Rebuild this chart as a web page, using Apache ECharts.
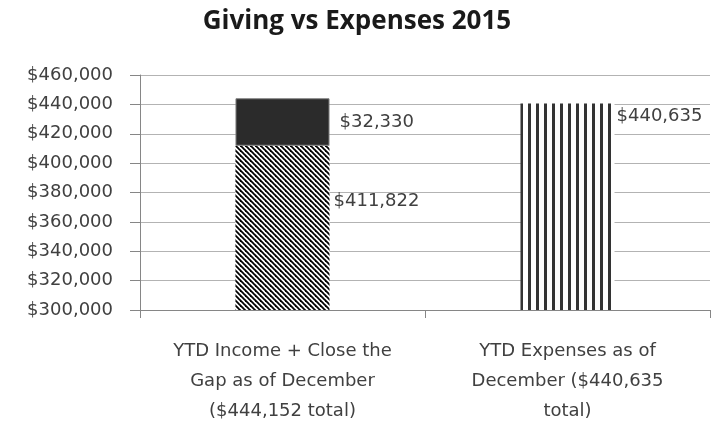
<!DOCTYPE html>
<html>
<head>
<meta charset="utf-8">
<title>Giving vs Expenses 2015</title>
<script src="https://cdn.jsdelivr.net/npm/echarts@6/dist/echarts.min.js"></script>
<style>
    html, body { margin: 0; padding: 0; background: #ffffff; }
    #chart { width: 714px; height: 428px; }
</style>
</head>
<body>
<div id="chart"></div>
<script>
    // data
    var categories = [
        'YTD Income + Close the\nGap as of December\n($444,152 total)',
        'YTD Expenses as of\nDecember ($440,635\ntotal)'
    ];
    var incomeData = [411822, '-'];
    var closeGapData = [32330, '-'];
    var expensesData = ['-', 440635];
    var yMin = 300000, yMax = 460000, yStep = 20000;

    var textColor = '#404040';
    var axisFont = 'DejaVu Sans';

    // diagonal hatch (\\\) for the income part
    function hatchPattern() {
        var c = document.createElement('canvas');
        c.width = 5; c.height = 5;
        var ctx = c.getContext('2d');
        ctx.fillStyle = '#ffffff';
        ctx.fillRect(0, 0, 5, 5);
        ctx.strokeStyle = '#000000';
        ctx.lineWidth = 1.8;
        [-5, 0, 5].forEach(function (o) {
            ctx.beginPath();
            ctx.moveTo(o - 1, -1);
            ctx.lineTo(o + 6, 6);
            ctx.stroke();
        });
        return c;
    }
    // vertical stripes for the expenses bar
    function stripePattern() {
        var c = document.createElement('canvas');
        c.width = 8; c.height = 8;
        var ctx = c.getContext('2d');
        ctx.fillStyle = '#ffffff';
        ctx.fillRect(0, 0, 8, 8);
        ctx.fillStyle = '#333333';
        ctx.fillRect(0, 0, 3, 8);
        return c;
    }

    function money(v) {
        return '$' + Number(v).toLocaleString('en-US');
    }

    var labelBase = {
        show: true,
        color: textColor,
        fontFamily: axisFont,
        fontSize: 18,
        formatter: function (p) { return money(p.value); }
    };

    var myChart = echarts.init(document.getElementById('chart'));
    myChart.setOption({
        animation: false,
        title: {
            text: 'Giving vs Expenses 2015',
            left: 'center',
            top: 4,
            textStyle: {
                fontFamily: 'Open Sans',
                fontWeight: 'bold',
                fontSize: 26,
                color: '#1a1a1a'
            }
        },
        grid: {
            left: 140,
            right: 4,
            top: 75,
            bottom: 118
        },
        xAxis: {
            type: 'category',
            data: categories,
            axisLine: { lineStyle: { color: '#868686', width: 1 } },
            axisTick: { show: true, length: 8, lineStyle: { color: '#868686' } },
            axisLabel: {
                margin: 26,
                color: textColor,
                fontFamily: axisFont,
                fontSize: 18,
                lineHeight: 30,
                align: 'center'
            }
        },
        yAxis: {
            type: 'value',
            min: yMin,
            max: yMax,
            interval: yStep,
            axisLine: { show: true, lineStyle: { color: '#868686', width: 1 } },
            axisTick: { show: true, length: 10, lineStyle: { color: '#868686' } },
            splitLine: { lineStyle: { color: '#b3b3b3', width: 1 } },
            axisLabel: {
                margin: 27,
                color: textColor,
                fontFamily: axisFont,
                fontSize: 18,
                formatter: money
            }
        },
        series: [
            {
                name: 'YTD Income',
                type: 'bar',
                stack: 'total',
                barWidth: '33%',
                data: incomeData,
                itemStyle: { color: { image: hatchPattern(), repeat: 'repeat' } },
                label: Object.assign({}, labelBase, {
                    position: ['100%', 56],
                    align: 'left',
                    verticalAlign: 'middle',
                    offset: [4, 0]
                })
            },
            {
                name: 'Close the Gap',
                type: 'bar',
                stack: 'total',
                data: closeGapData,
                itemStyle: { color: '#2b2b2b', borderColor: '#7f7f7f', borderWidth: 1 },
                label: Object.assign({}, labelBase, {
                    position: 'right',
                    distance: 10
                })
            },
            {
                name: 'YTD Expenses',
                type: 'bar',
                stack: 'total',
                data: expensesData,
                itemStyle: { color: { image: stripePattern(), repeat: 'repeat' } },
                label: Object.assign({}, labelBase, {
                    position: ['100%', 13],
                    align: 'left',
                    verticalAlign: 'middle',
                    offset: [2, 0]
                })
            }
        ]
    });
    window.onresize = myChart.resize;
</script>
</body>
</html>
